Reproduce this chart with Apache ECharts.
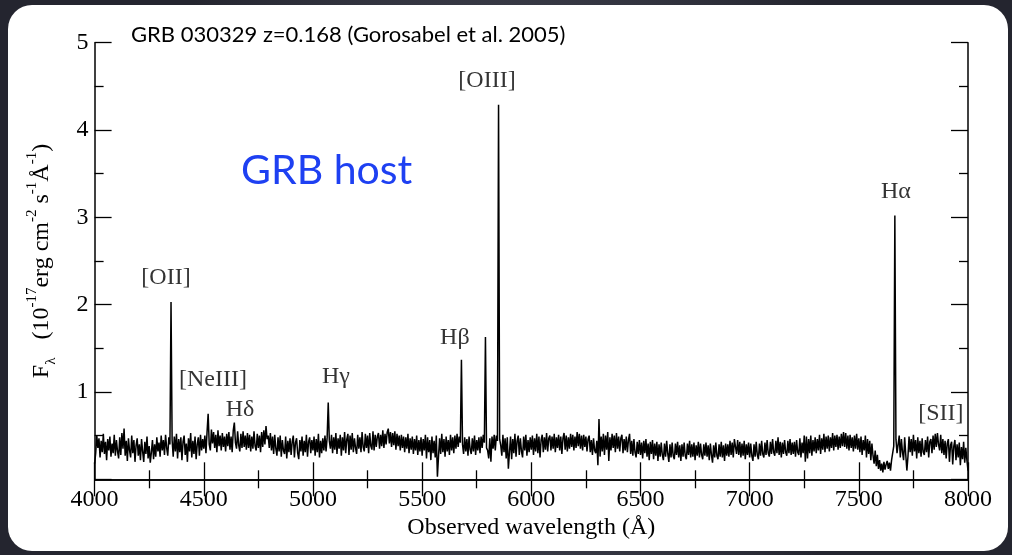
<!DOCTYPE html>
<html>
<head>
<meta charset="utf-8">
<script src="https://cdn.jsdelivr.net/npm/echarts@6/dist/echarts.min.js"></script>
<style>
html,body{margin:0;padding:0;background:#2c2d39;}
#chart{width:1012px;height:555px;}
</style>
</head>
<body>
<div id="chart"></div>
<script>
// Spectrum sampled every 5 Å from 4000 to 8000 Å (flux in 1e-17 erg/cm2/s/Å), 20 values per 100 Å row
const lambdaStart = 4000;
const lambdaStep = 5;
const flux = [
 0.18,0.30,0.50,0.36,0.47,0.25,0.44,0.31,0.52,0.29,0.43,0.22,0.46,0.33,0.49,0.26,0.41,0.30,0.51,0.27, // 4000
 0.45,0.32,0.24,0.48,0.28,0.53,0.35,0.58,0.27,0.44,0.21,0.47,0.33,0.25,0.50,0.30,0.45,0.20,0.39,0.47, // 4100
 0.27,0.40,0.22,0.46,0.32,0.20,0.43,0.29,0.49,0.24,0.38,0.19,0.31,0.45,0.23,0.40,0.26,0.48,0.32,0.42, // 4200
 0.26,0.50,0.33,0.45,0.28,0.51,0.36,0.27,0.48,0.40,2.03,0.45,0.26,0.49,0.32,0.52,0.24,0.46,0.31,0.48, // 4300
 0.22,0.43,0.50,0.28,0.41,0.20,0.47,0.32,0.53,0.25,0.44,0.29,0.49,0.23,0.40,0.48,0.27,0.51,0.33,0.46, // 4400
 0.35,0.50,0.30,0.54,0.75,0.40,0.33,0.57,0.41,0.54,0.36,0.51,0.31,0.56,0.38,0.50,0.33,0.53,0.37,0.49, // 4500
 0.32,0.52,0.38,0.54,0.34,0.49,0.31,0.56,0.65,0.42,0.35,0.55,0.39,0.32,0.52,0.36,0.55,0.37,0.50,0.34, // 4600
 0.53,0.36,0.51,0.32,0.49,0.35,0.55,0.38,0.33,0.52,0.36,0.50,0.31,0.54,0.37,0.56,0.40,0.61,0.46,0.50, // 4700
 0.36,0.53,0.33,0.49,0.29,0.51,0.35,0.27,0.48,0.32,0.50,0.26,0.45,0.33,0.29,0.49,0.24,0.44,0.31,0.47, // 4800
 0.28,0.43,0.50,0.25,0.42,0.47,0.30,0.23,0.45,0.32,0.49,0.27,0.44,0.31,0.51,0.26,0.43,0.48,0.30,0.45, // 4900
 0.33,0.49,0.27,0.46,0.31,0.52,0.25,0.44,0.30,0.47,0.33,0.50,0.32,0.48,0.88,0.44,0.35,0.51,0.30,0.48, // 5000
 0.34,0.53,0.29,0.47,0.35,0.51,0.27,0.48,0.33,0.54,0.30,0.46,0.52,0.28,0.50,0.34,0.53,0.31,0.47,0.36, // 5100
 0.29,0.51,0.35,0.48,0.31,0.54,0.37,0.32,0.52,0.36,0.50,0.30,0.53,0.38,0.34,0.55,0.33,0.51,0.37,0.49, // 5200
 0.53,0.35,0.51,0.38,0.56,0.36,0.52,0.40,0.54,0.58,0.41,0.54,0.37,0.53,0.39,0.55,0.34,0.52,0.38,0.50, // 5300
 0.33,0.51,0.36,0.49,0.31,0.48,0.35,0.52,0.30,0.47,0.34,0.49,0.29,0.46,0.33,0.50,0.28,0.45,0.32,0.48, // 5400
 0.27,0.46,0.33,0.51,0.24,0.48,0.31,0.45,0.22,0.49,0.30,0.44,0.25,0.50,0.03,0.26,0.47,0.29,0.52,0.31, // 5500
 0.46,0.26,0.49,0.32,0.45,0.28,0.51,0.33,0.48,0.30,0.50,0.35,0.52,0.37,0.49,0.42,1.37,0.40,0.29,0.48, // 5600
 0.32,0.46,0.27,0.49,0.34,0.29,0.47,0.32,0.50,0.28,0.45,0.33,0.48,0.30,0.49,0.36,0.51,0.42,1.63,0.36, // 5700
 0.33,0.24,0.47,0.20,0.49,0.35,0.51,0.33,0.50,0.44,4.29,0.46,0.39,0.27,0.51,0.31,0.47,0.24,0.48,0.12, // 5800
 0.31,0.49,0.23,0.46,0.30,0.52,0.26,0.44,0.50,0.28,0.47,0.32,0.25,0.49,0.33,0.51,0.27,0.45,0.31,0.48, // 5900
 0.34,0.50,0.28,0.47,0.32,0.52,0.30,0.49,0.25,0.45,0.51,0.31,0.48,0.34,0.53,0.32,0.47,0.50,0.33,0.49, // 6000
 0.35,0.52,0.31,0.48,0.36,0.51,0.33,0.49,0.29,0.47,0.53,0.34,0.50,0.32,0.48,0.35,0.52,0.37,0.51,0.33, // 6100
 0.49,0.36,0.54,0.38,0.52,0.35,0.50,0.33,0.51,0.37,0.49,0.32,0.46,0.50,0.31,0.45,0.28,0.47,0.33,0.30, // 6200
 0.44,0.16,0.69,0.26,0.49,0.32,0.52,0.28,0.50,0.34,0.54,0.21,0.48,0.33,0.52,0.36,0.50,0.31,0.53,0.35, // 6300
 0.49,0.32,0.47,0.51,0.30,0.46,0.33,0.49,0.31,0.45,0.52,0.29,0.44,0.27,0.46,0.31,0.25,0.43,0.29,0.45, // 6400
 0.28,0.42,0.24,0.44,0.30,0.46,0.26,0.41,0.22,0.43,0.29,0.45,0.23,0.41,0.27,0.43,0.21,0.40,0.26,0.42, // 6500
 0.28,0.22,0.41,0.26,0.44,0.29,0.20,0.40,0.25,0.42,0.27,0.23,0.41,0.28,0.43,0.25,0.39,0.21,0.40,0.26, // 6600
 0.42,0.27,0.23,0.41,0.28,0.44,0.25,0.40,0.26,0.42,0.22,0.39,0.27,0.43,0.25,0.41,0.28,0.23,0.40,0.27, // 6700
 0.42,0.26,0.39,0.22,0.41,0.28,0.19,0.39,0.25,0.42,0.27,0.23,0.40,0.26,0.43,0.25,0.39,0.21,0.41,0.27, // 6800
 0.40,0.26,0.44,0.28,0.42,0.25,0.46,0.48,0.29,0.45,0.28,0.43,0.25,0.41,0.27,0.44,0.23,0.40,0.28,0.42, // 6900
 0.25,0.41,0.27,0.21,0.40,0.26,0.43,0.28,0.23,0.41,0.27,0.44,0.29,0.25,0.42,0.28,0.45,0.30,0.26,0.43, // 7000
 0.29,0.46,0.31,0.27,0.44,0.30,0.48,0.28,0.43,0.25,0.42,0.29,0.45,0.31,0.27,0.44,0.30,0.46,0.28,0.42, // 7100
 0.29,0.43,0.26,0.45,0.31,0.28,0.47,0.25,0.42,0.30,0.50,0.20,0.49,0.24,0.46,0.30,0.50,0.27,0.45,0.32, // 7200
 0.48,0.30,0.46,0.33,0.51,0.29,0.47,0.34,0.52,0.31,0.49,0.35,0.50,0.32,0.48,0.36,0.53,0.33,0.50,0.37, // 7300
 0.51,0.34,0.49,0.36,0.52,0.38,0.54,0.37,0.53,0.35,0.50,0.33,0.51,0.36,0.48,0.32,0.50,0.35,0.52,0.34, // 7400
 0.47,0.31,0.49,0.28,0.45,0.33,0.50,0.25,0.46,0.29,0.44,0.22,0.41,0.27,0.18,0.33,0.15,0.28,0.12,0.22, // 7500
 0.10,0.18,0.08,0.20,0.11,0.17,0.21,0.12,0.19,0.10,0.22,0.20,0.38,3.02,0.46,0.30,0.28,0.50,0.25,0.46, // 7600
 0.31,0.22,0.48,0.28,0.10,0.26,0.49,0.31,0.46,0.27,0.51,0.32,0.45,0.24,0.48,0.30,0.44,0.26,0.47,0.31, // 7700
 0.28,0.45,0.31,0.49,0.25,0.43,0.46,0.30,0.50,0.34,0.52,0.37,0.53,0.40,0.33,0.51,0.30,0.46,0.28,0.44, // 7800
 0.24,0.41,0.46,0.20,0.39,0.43,0.17,0.38,0.45,0.22,0.40,0.25,0.42,0.16,0.37,0.23,0.43,0.19,0.36,0.22, // 7900
 0.10                                                                                                 // 8000
];
const wavelengths = flux.map((_, i) => lambdaStart + i * lambdaStep);

// Emission-line annotations (text, wavelength, flux position of label)
const lineNames  = ['[OII]', '[NeIII]', 'Hδ', 'Hγ', 'Hβ', '[OIII]', 'Hα', '[SII]'];
const lineLambda = [4327, 4542, 4666, 5105, 5650, 5797, 7670, 7876];
const lineLabelF = [2.31, 1.14, 0.80, 1.17, 1.62, 4.57, 3.29, 0.75];

const xTicks = { min: 4000, max: 8000, interval: 500 };
const yTicks = { min: 0, max: 5, interval: 1 };

const titleText = 'GRB 030329 z=0.168 (Gorosabel et al. 2005)';
const hostText = 'GRB host';
const xName = 'Observed wavelength (Å)';

const serif = '"Liberation Serif", "DejaVu Serif", serif';
const chart = echarts.init(document.getElementById('chart'), null, { renderer: 'canvas' });

const tickStyle = { show: true, inside: true, length: 17, lineStyle: { color: '#000', width: 1.3 } };
const minorStyle = { show: true, splitNumber: 2, length: 9, lineStyle: { color: '#000', width: 1.3 } };
const axLine = { show: true, lineStyle: { color: '#000', width: 1.5 } };

const option = {
  animation: false,
  backgroundColor: {
    type: 'radial', x: 0.5, y: 0.5, r: 0.75,
    colorStops: [{ offset: 0, color: '#5a5c6b' }, { offset: 1, color: '#24252f' }]
  },
  graphic: [{
    type: 'rect', z: -10, silent: true,
    shape: { x: 8, y: 5, width: 1000, height: 546, r: 24 },
    style: { fill: '#ffffff' }
  }],
  title: [
    { text: titleText, left: 126, top: 19,
      textStyle: { fontFamily: 'Lato', fontSize: 22, fontWeight: 'normal', color: '#000' } },
    { text: hostText, left: 236, top: 145,
      textStyle: { fontFamily: 'Lato', fontSize: 41, fontWeight: 'normal', color: '#1e40f2' } }
  ],
  grid: { left: 94.6, top: 42.7, right: 44, bottom: 75.7, containLabel: false },
  xAxis: [{
    type: 'value', position: 'bottom', min: xTicks.min, max: xTicks.max, interval: xTicks.interval,
    axisLine: axLine, axisTick: tickStyle, minorTick: minorStyle, splitLine: { show: false },
    axisLabel: { color: '#000', fontFamily: serif, fontSize: 24, margin: 8, formatter: v => String(v) },
    name: xName, nameLocation: 'middle', nameGap: 36,
    nameTextStyle: { color: '#000', fontFamily: serif, fontSize: 24 }
  }, {
    type: 'value', position: 'top', min: xTicks.min, max: xTicks.max, interval: xTicks.interval,
    axisLine: axLine, axisTick: tickStyle, minorTick: minorStyle, splitLine: { show: false },
    axisLabel: { show: false }
  }],
  yAxis: [{
    type: 'value', position: 'left', min: yTicks.min, max: yTicks.max, interval: yTicks.interval,
    axisLine: axLine, axisTick: tickStyle, minorTick: minorStyle, splitLine: { show: false },
    axisLabel: { color: '#000', fontFamily: serif, fontSize: 24, margin: 6,
      formatter: v => (v === 0 ? '' : String(v)) },
    name: '{m|F}{sub|λ}{m|   (10}{sup|-17}{m|erg cm}{sup|-2}{m| s}{sup|-1}{m|Å}{sup|-1}{m|)}',
    nameLocation: 'middle', nameRotate: 90, nameGap: 36,
    nameTextStyle: {
      color: '#000', fontFamily: serif, fontSize: 24,
      rich: {
        m: { fontFamily: serif, fontSize: 24, color: '#000', lineHeight: 34, verticalAlign: 'middle' },
        sub: { fontFamily: serif, fontSize: 15, color: '#000', lineHeight: 34, verticalAlign: 'bottom' },
        sup: { fontFamily: serif, fontSize: 15, color: '#000', lineHeight: 34, verticalAlign: 'top' }
      }
    }
  }, {
    type: 'value', position: 'right', min: yTicks.min, max: yTicks.max, interval: yTicks.interval,
    axisLine: axLine, axisTick: tickStyle, minorTick: minorStyle, splitLine: { show: false },
    axisLabel: { show: false }
  }],
  series: [{
    type: 'line', xAxisIndex: 0, yAxisIndex: 0,
    data: wavelengths.map((w, i) => [w, flux[i]]),
    showSymbol: false, symbol: 'none', sampling: null,
    lineStyle: { color: '#000', width: 1.5 }, z: 3
  }, {
    type: 'scatter', xAxisIndex: 0, yAxisIndex: 0, symbolSize: 0, silent: true,
    data: lineNames.map((n, i) => ({ name: n, value: [lineLambda[i], lineLabelF[i]] })),
    label: { show: true, position: 'inside', formatter: p => p.name,
      color: '#000', fontFamily: serif, fontSize: 24 }
  }]
};
chart.setOption(option);
</script>
</body>
</html>
